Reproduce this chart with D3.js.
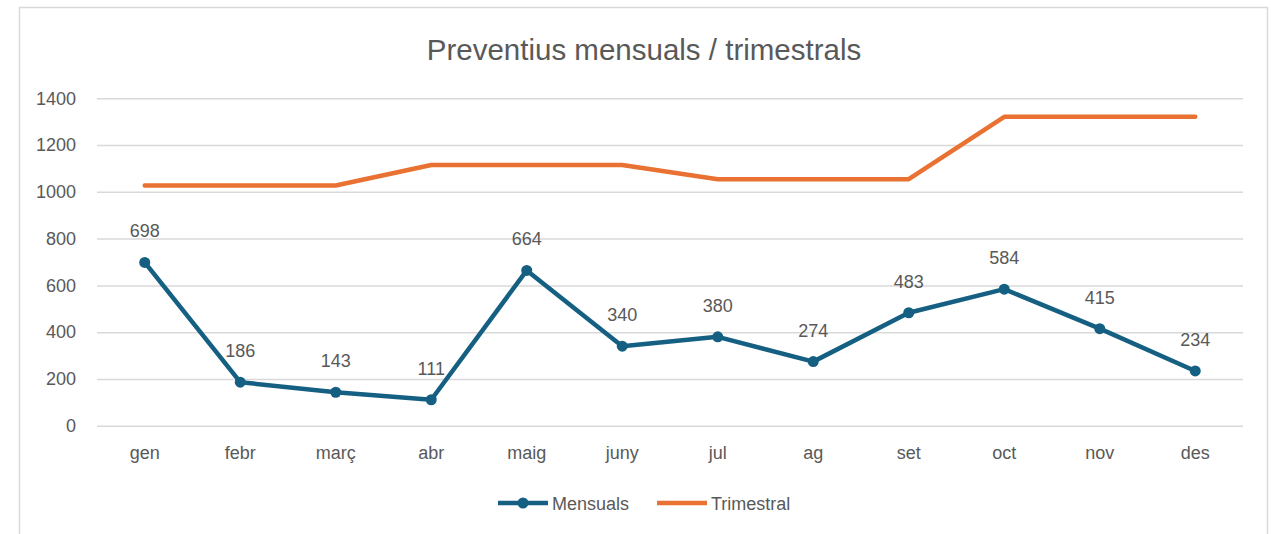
<!DOCTYPE html>
<html><head><meta charset="utf-8">
<script src="https://cdn.jsdelivr.net/npm/d3@7"></script>
<style>body{margin:0;background:#fff}svg{display:block}</style>
</head><body>
<svg id="c" width="1271" height="534"></svg>
<script>
const categories = ["gen","febr","març","abr","maig","juny","jul","ag","set","oct","nov","des"];
const mensuals = [698,186,143,111,664,340,380,274,483,584,415,234];
const trimestral = [1027,1027,1027,1115,1115,1115,1054,1054,1054,1321,1321,1321];
const yTicks = [0,200,400,600,800,1000,1200,1400];
const seriesNames = ["Mensuals","Trimestral"];

const svg = d3.select("#c");
const blue = "#156082", orange = "#E97132", txt = "#595959";
const sans = "'Liberation Sans', Arial, sans-serif";

svg.append("rect").attr("x",19.5).attr("y",7.5).attr("width",1248).attr("height",540)
  .attr("fill","#fff").attr("stroke","#d9d9d9").attr("stroke-width",1.5);

const x = d3.scaleBand().domain(categories).range([97,1243]);
const y = d3.scaleLinear().domain([0,1400]).range([425.7,98.3]);

// gridlines
const yAxis = d3.axisLeft(y).tickValues(yTicks).tickSize(-(1243-97)).tickFormat(d3.format("d")).tickPadding(21);
const gy = svg.append("g").attr("transform","translate(97,0)").call(yAxis);
gy.select(".domain").remove();
gy.selectAll("line").attr("stroke","#d9d9d9").attr("stroke-width",1.5);
gy.selectAll("text").attr("fill",txt).style("font-family",sans).style("font-size","18px");

const xAxis = d3.axisBottom(x).tickSize(0).tickPadding(21);
const gx = svg.append("g").attr("transform","translate(0,425.7)").call(xAxis);
gx.select(".domain").remove();
gx.selectAll("text").attr("fill",txt).style("font-family",sans).style("font-size","18px");

const cx = d => x(d) + x.bandwidth()/2;

const line = d3.line().x((d,i)=>cx(categories[i])).y(d=>y(d));
svg.append("path").datum(trimestral).attr("d",line).attr("fill","none")
  .attr("stroke",orange).attr("stroke-width",4.5).attr("stroke-linejoin","round").attr("stroke-linecap","round");
svg.append("path").datum(mensuals).attr("d",line).attr("fill","none")
  .attr("stroke",blue).attr("stroke-width",4.5).attr("stroke-linejoin","round").attr("stroke-linecap","round");
svg.selectAll(".pt").data(mensuals).join("circle").attr("class","pt")
  .attr("cx",(d,i)=>cx(categories[i])).attr("cy",d=>y(d)).attr("r",5.5).attr("fill",blue);
svg.selectAll(".lbl").data(mensuals).join("text").attr("class","lbl")
  .attr("x",(d,i)=>cx(categories[i])).attr("y",d=>y(d)-25)
  .attr("text-anchor","middle").attr("fill",txt).style("font-family",sans).style("font-size","18px")
  .text(d=>d);

// title
svg.append("text").attr("x",644).attr("y",59.5).attr("text-anchor","middle")
  .attr("fill",txt).style("font-family",sans).style("font-size","29.5px")
  .text("Preventius mensuals / trimestrals");

// legend
const lg = svg.append("g");
const items = [{n:seriesNames[0],c:blue,x0:498,m:true},{n:seriesNames[1],c:orange,x0:657,m:false}];
items.forEach(it=>{
  lg.append("line").attr("x1",it.x0).attr("x2",it.x0+50).attr("y1",503).attr("y2",503)
    .attr("stroke",it.c).attr("stroke-width",4.5);
  if(it.m) lg.append("circle").attr("cx",it.x0+25).attr("cy",503).attr("r",5.5).attr("fill",it.c);
  lg.append("text").attr("x",it.x0+54).attr("y",509.5).attr("fill",txt)
    .style("font-family",sans).style("font-size","18px").text(it.n);
});
</script>
</body></html>
